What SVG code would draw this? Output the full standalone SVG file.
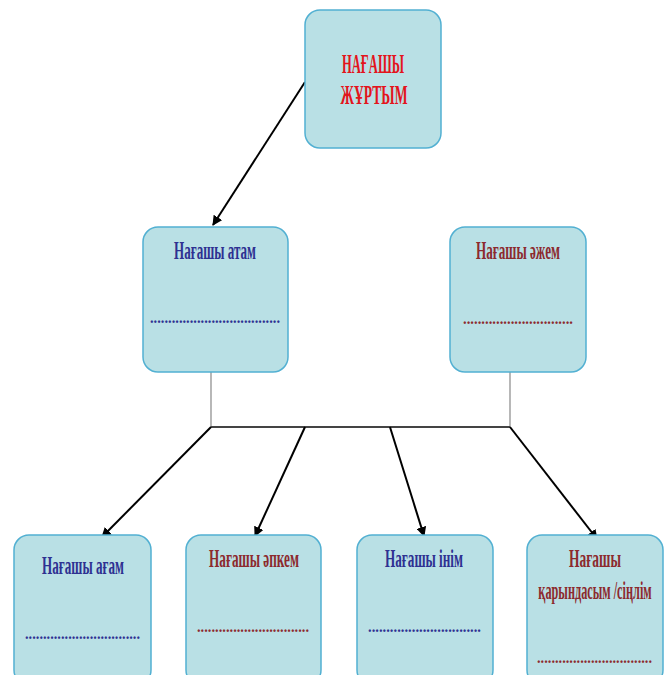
<svg xmlns="http://www.w3.org/2000/svg" width="669" height="675" viewBox="0 0 669 675">
<style>
.box{fill:#b9e0e5;stroke:#52b0d2;stroke-width:1.5}
.t{font-family:"Liberation Serif","Times New Roman",serif;font-weight:bold;text-anchor:middle}
.title{fill:#e3141c;font-size:27px}
.blue{fill:#2e3192;font-size:25px}
.brown{fill:#8c2a2e;font-size:25px}
.dots{font-family:"Liberation Serif",serif;font-weight:bold;font-size:16px}
.arrow{stroke:#000;stroke-width:2;fill:none;marker-end:url(#ah)}
</style>
<defs>
<marker id="ah" viewBox="0 0 10 10" refX="9" refY="5" markerWidth="5" markerHeight="5" orient="auto" markerUnits="strokeWidth">
<path d="M0,0 L10,5 L0,10 z" fill="#000"/>
</marker>
</defs>
<rect width="669" height="675" fill="#fff"/>
<g id="connectors">
<line class="arrow" x1="305" y1="82" x2="213" y2="225"/>
<line x1="211" y1="372" x2="211" y2="427" stroke="#888" stroke-width="1.2"/>
<line x1="510" y1="372" x2="510" y2="427" stroke="#888" stroke-width="1.2"/>
<line x1="211" y1="427" x2="510" y2="427" stroke="#444" stroke-width="2"/>
<line class="arrow" x1="211" y1="427" x2="102" y2="537"/>
<line class="arrow" x1="305" y1="427" x2="255" y2="536"/>
<line class="arrow" x1="390" y1="427" x2="424" y2="536"/>
<line class="arrow" x1="510" y1="427" x2="597" y2="539"/>
</g>
<g id="n-root">
<rect class="box" x="305" y="10" width="136" height="138" rx="15"/>
<text class="t title" x="373" y="73" textLength="62" lengthAdjust="spacingAndGlyphs">НАҒАШЫ</text>
<text class="t title" x="374" y="104" textLength="67" lengthAdjust="spacingAndGlyphs">ЖҰРТЫМ</text>
</g>
<g id="n-atam">
<rect class="box" x="143" y="227" width="145" height="145" rx="15"/>
<text class="t blue" x="215" y="259" textLength="82" lengthAdjust="spacingAndGlyphs">Нағашы атам</text>
<text class="dots" x="150" y="323" fill="#2e3192" textLength="130" lengthAdjust="spacingAndGlyphs">....................................</text>
</g>
<g id="n-azhem">
<rect class="box" x="450" y="227" width="136" height="145" rx="15"/>
<text class="t brown" x="518" y="259" textLength="84" lengthAdjust="spacingAndGlyphs">Нағашы әжем</text>
<text class="dots" x="463" y="324" fill="#8c2a2e" textLength="110" lengthAdjust="spacingAndGlyphs">..............................</text>
</g>
<g id="n-agam">
<rect class="box" x="14" y="535" width="137" height="150" rx="15"/>
<text class="t blue" x="83" y="574" textLength="82" lengthAdjust="spacingAndGlyphs">Нағашы ағам</text>
<text class="dots" x="25" y="639" fill="#2e3192" textLength="115" lengthAdjust="spacingAndGlyphs">................................</text>
</g>
<g id="n-apkem">
<rect class="box" x="186" y="535" width="135" height="150" rx="15"/>
<text class="t brown" x="254" y="567" textLength="90" lengthAdjust="spacingAndGlyphs">Нағашы әпкем</text>
<text class="dots" x="197" y="632" fill="#8c2a2e" textLength="112" lengthAdjust="spacingAndGlyphs">...............................</text>
</g>
<g id="n-inim">
<rect class="box" x="357" y="535" width="136" height="150" rx="15"/>
<text class="t blue" x="424" y="567" textLength="78" lengthAdjust="spacingAndGlyphs">Нағашы інім</text>
<text class="dots" x="368" y="632" fill="#2e3192" textLength="113" lengthAdjust="spacingAndGlyphs">...............................</text>
</g>
<g id="n-karyndas">
<rect class="box" x="527" y="535" width="136" height="150" rx="15"/>
<text class="t brown" x="595" y="567" textLength="52" lengthAdjust="spacingAndGlyphs">Нағашы</text>
<text class="t brown" transform="translate(595,599) scale(0.55,1)" x="0" y="0" textLength="206" lengthAdjust="spacingAndGlyphs">қарындасым /сіңлім</text>
<text class="dots" x="537" y="663" fill="#8c2a2e" textLength="115" lengthAdjust="spacingAndGlyphs">................................</text>
</g>
</svg>
